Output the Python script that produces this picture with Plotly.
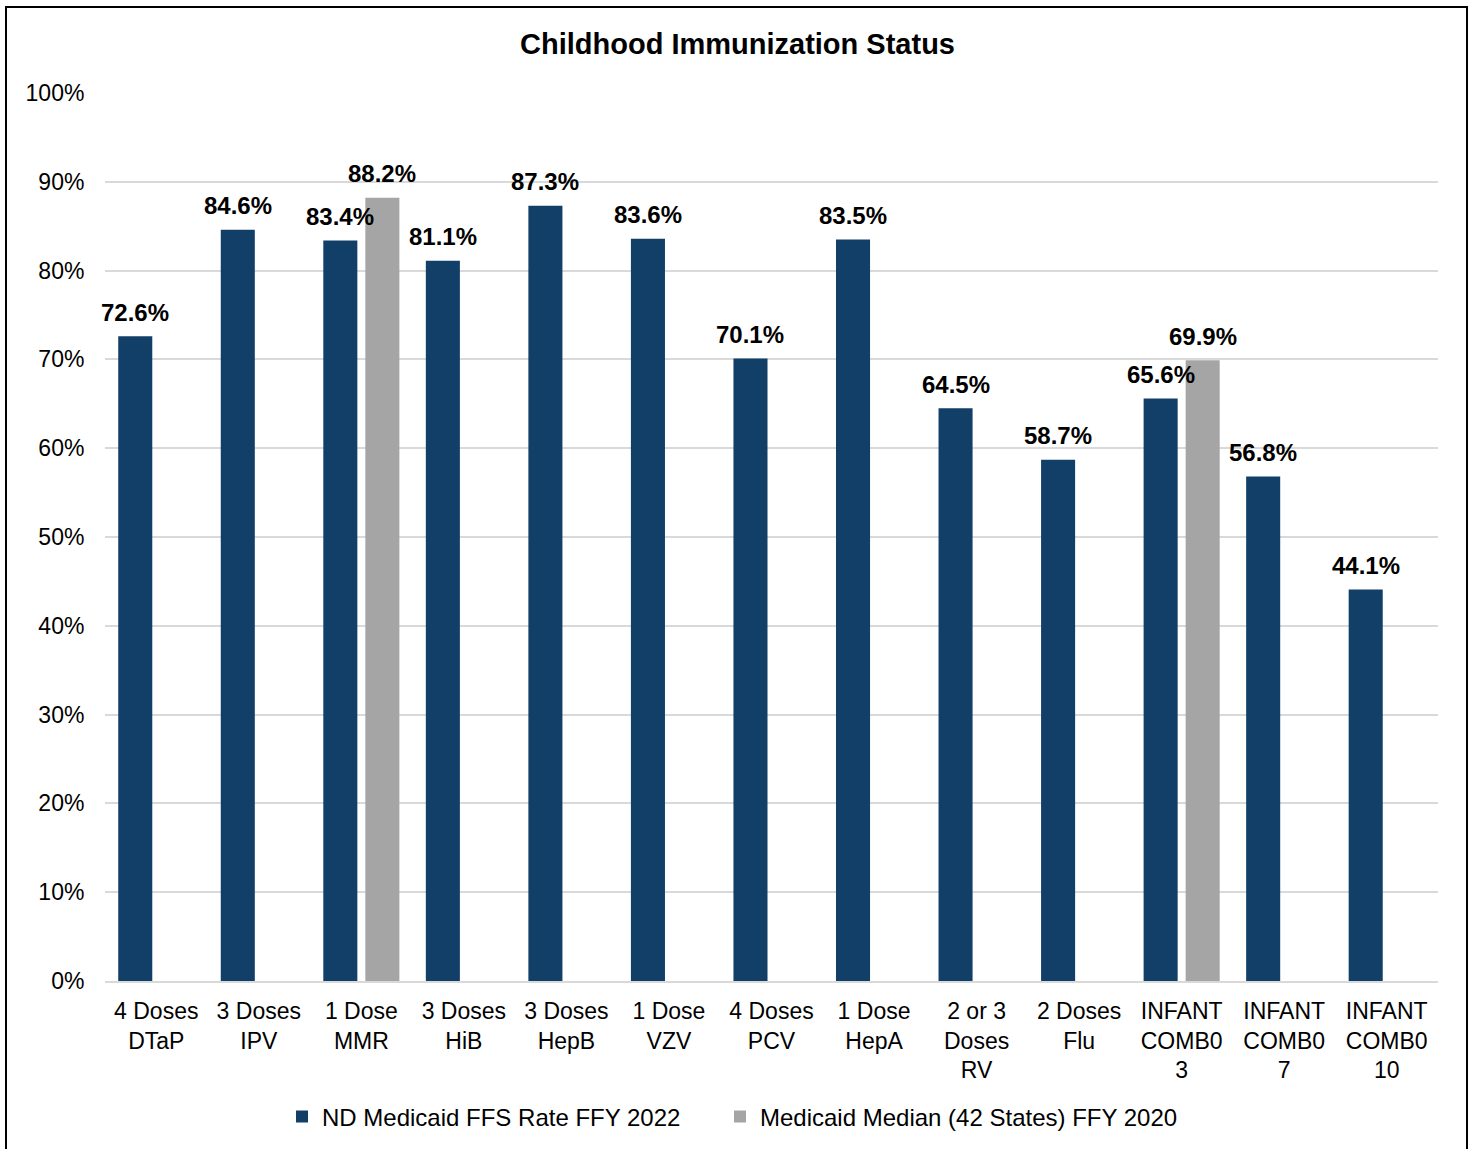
import plotly.graph_objects as go

# Categories and rates (percent)
categories = [
    "4 Doses<br>DTaP", "3 Doses<br>IPV", "1 Dose<br>MMR", "3 Doses<br>HiB",
    "3 Doses<br>HepB", "1 Dose<br>VZV", "4 Doses<br>PCV", "1 Dose<br>HepA",
    "2 or 3<br>Doses<br>RV", "2 Doses<br>Flu", "INFANT<br>COMB0<br>3",
    "INFANT<br>COMB0<br>7", "INFANT<br>COMB0<br>10",
]
nd_rate_2022 = [72.6, 84.6, 83.4, 81.1, 87.3, 83.6, 70.1, 83.5, 64.5, 58.7, 65.6, 56.8, 44.1]
median_2020 = [None, None, 88.2, None, None, None, None, None, None, None, 69.9, None, None]

series_names = ["ND Medicaid FFS Rate FFY 2022", "Medicaid Median (42 States) FFY 2020"]
BLUE = "#123F67"
GRAY = "#A5A5A5"
FONT = "Liberation Sans, Arial, sans-serif"

W, H = 1475, 1149
L, R, T, B = 105, 37, 93, 168
plot_w = W - L - R
plot_h = H - T - B

fig = go.Figure()
fig.add_trace(go.Bar(x=categories, y=nd_rate_2022, name=series_names[0], legend="legend",
                     showlegend=True, marker=dict(color=BLUE, line=dict(width=0))))
fig.add_trace(go.Bar(x=categories, y=median_2020, name=series_names[1], legend="legend2",
                     showlegend=True, marker=dict(color=GRAY, line=dict(width=0))))

# value labels above each bar, shifted to the bar's slot in the group
bargap = 0.18
slot = plot_w / len(categories) * (1 - bargap) / 2
for values, shift in ((nd_rate_2022, -slot / 2), (median_2020, slot / 2)):
    for cat, v in zip(categories, values):
        if v is None:
            continue
        fig.add_annotation(x=cat, y=v, text=f"{v:.1f}%", showarrow=False,
                           xshift=shift, yshift=24, yanchor="middle",
                           font=dict(family=FONT, size=24, color="black", weight="bold"))

# outer frame
fig.add_shape(type="rect", xref="paper", yref="paper",
              x0=(6 - L) / plot_w, x1=(1467 - L) / plot_w,
              y0=-(1152 - (H - B)) / plot_h, y1=((H - B) - 7) / plot_h,
              line=dict(color="black", width=2), fillcolor="rgba(0,0,0,0)", layer="above")

legend_style = dict(orientation="h", xanchor="left", y=-0.153, yanchor="middle",
                    font=dict(family=FONT, size=24, color="black"), itemwidth=30,
                    bgcolor="rgba(0,0,0,0)")

fig.update_layout(
    width=W, height=H,
    margin=dict(l=L, r=R, t=T, b=B, autoexpand=False),
    paper_bgcolor="white", plot_bgcolor="white",
    showlegend=True,
    barmode="group", bargap=bargap, bargroupgap=0.19,
    title=dict(text="<b>Childhood Immunization Status</b>", x=0.5, xanchor="center",
               y=1 - 44 / H, yanchor="middle", yref="container",
               font=dict(family=FONT, size=29, color="black")),
    font=dict(family=FONT, color="black"),
    legend=dict(x=(282 - L) / plot_w, **legend_style),
    legend2=dict(x=(720 - L) / plot_w, **legend_style),
    xaxis=dict(tickfont=dict(family=FONT, size=23, color="black"), automargin=False,
               range=[-0.5, len(categories) - 0.5],
               showline=True, linecolor="#D9D9D9", linewidth=2,
               ticks="outside", ticklen=8, tickcolor="rgba(0,0,0,0)"),
    yaxis=dict(range=[0, 100], dtick=10, ticksuffix="%", automargin=False,
               tickfont=dict(family=FONT, size=23, color="black"),
               showgrid=True, gridcolor="#D9D9D9", gridwidth=2,
               zeroline=False, ticks="outside", ticklen=15, tickcolor="rgba(0,0,0,0)"),
)

fig.write_html("out.html")
